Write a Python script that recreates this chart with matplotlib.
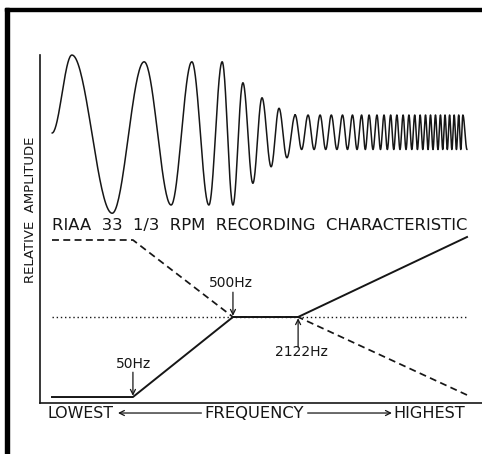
"""
RIAA 33 1/3 rpm recording characteristic: a chirp whose swing shrinks as the
frequency climbs, and the straight-line recording / playback curves below it.
"""
import numpy as np
import matplotlib.pyplot as plt
from matplotlib.patches import Rectangle

plt.rcParams['font.family'] = 'DejaVu Sans'

# turning points of the recorded groove swing (position along frequency axis, relative swing)
swing_x = [0.0, 4.8, 14.5, 22.2, 28.7, 33.7, 37.8, 41.0, 43.6, 46.0, 48.4,
           50.6, 52.8, 54.7, 56.6]
swing_y = [0.0, 1.04, -1.07, 0.95, -0.96, 0.95, -0.96, 0.95, -0.96, 0.67, -0.67,
           0.47, -0.45, 0.33, -0.33]
# crest positions in the dense high-frequency part, where the swing stays constant
dense_peaks = [58.6, 61.7, 64.6, 67.3, 70.0, 72.4, 74.6, 76.4, 78.3, 80.0, 81.6,
               83.1, 84.6, 86.0, 87.4, 88.7, 90.0, 91.2, 92.4, 93.6, 94.7, 95.8,
               96.9, 98.0, 99.0]
dense_high = 0.24
dense_low = -0.22
wave_end = 100.0

# recording curve (solid), playback curve (dashed), flat reference (dotted), in dB-like units
record_x = [0.0, 19.5, 43.6, 59.3, 100.0]
record_y = [-20.0, -20.0, 0.0, 0.0, 20.0]
playback_x = [0.0, 19.5, 43.6, 59.3, 100.0]
playback_y = [19.25, 19.25, 0.0, 0.0, -19.5]
flat_x = [0.0, 100.0]
flat_y = [0.0, 0.0]

# turnover frequencies: label, x of the corner, level of the corner
turnovers = [("50Hz", 19.5, -20.0), ("500Hz", 43.6, 0.0), ("2122Hz", 59.3, 0.0)]

XLIM = (-2.89, 103.61)
INK = '#161616'

# build the full list of turning points (dense troughs sit between the crests)
ext_x = list(swing_x)
ext_y = list(swing_y)
for i, p in enumerate(dense_peaks):
    ext_x.append(p)
    ext_y.append(dense_high)
    if i + 1 < len(dense_peaks):
        ext_x.append((p + dense_peaks[i + 1]) / 2)
    else:
        ext_x.append(wave_end)
    ext_y.append(dense_low)

# join turning points with half-cosine arcs so it reads as a smooth sine
xs, ys = [], []
for i in range(len(ext_x) - 1):
    t = np.linspace(0, 1, 40)
    xs.append(ext_x[i] + (ext_x[i + 1] - ext_x[i]) * t)
    ys.append(ext_y[i] + (ext_y[i + 1] - ext_y[i]) * (1 - np.cos(np.pi * t)) / 2)
wave_xs = np.concatenate(xs)
wave_ys = np.concatenate(ys)

fig = plt.figure(figsize=(4.82, 4.54), dpi=100)
fig.patch.set_facecolor('white')

# heavy page border on the left and top
fig.patches.append(Rectangle((0.0104, 0.0), 0.0083, 0.9824, transform=fig.transFigure,
                             color='black', zorder=5))
fig.patches.append(Rectangle((0.0104, 0.9758), 0.99, 0.0066, transform=fig.transFigure,
                             color='black', zorder=5))

# frame carrying the two axis lines
frame = fig.add_axes([0.0830, 0.1123, 0.917, 0.7665])
frame.set_xlim(0, 1)
frame.set_ylim(0, 1)
frame.set_xticks([])
frame.set_yticks([])
for side in ['top', 'right']:
    frame.spines[side].set_visible(False)
for side in ['left', 'bottom']:
    frame.spines[side].set_linewidth(1.2)
    frame.spines[side].set_color(INK)
frame.patch.set_alpha(0)

# upper part: groove swing
wave_ax = fig.add_axes([0.0830, 0.5242, 0.917, 0.3656])
wave_ax.plot(wave_xs, wave_ys, color=INK, lw=1.1, solid_capstyle='round')
wave_ax.set_xlim(*XLIM)
wave_ax.set_ylim(-1.1067, 1.1067)
wave_ax.axis('off')

# lower part: response curves
resp = fig.add_axes([0.0830, 0.1079, 0.917, 0.3855])
resp.set_xlim(*XLIM)
resp.set_ylim(-22, 21.75)
resp.axis('off')
resp.plot(flat_x, flat_y, color=INK, lw=1.0, linestyle=(0, (1, 2)))
resp.plot(playback_x, playback_y, color=INK, lw=1.25, linestyle=(0, (4, 2.5)))
resp.plot(record_x, record_y, color=INK, lw=1.4)

arrow = dict(arrowstyle='->', color=INK, lw=0.9, shrinkA=0, shrinkB=0,
             mutation_scale=9)
text_style = dict(fontsize=10, color=INK, ha='center', va='center')

label, x, y = turnovers[0]
resp.annotate('', xy=(x, y + 0.3), xytext=(x, y + 6.2), arrowprops=arrow)
resp.text(x + 0.2, y + 8.25, label, **text_style)

label, x, y = turnovers[1]
resp.annotate('', xy=(x, y + 0.3), xytext=(x, y + 6.2), arrowprops=arrow)
resp.text(x - 0.5, y + 8.5, label, **text_style)

label, x, y = turnovers[2]
resp.annotate('', xy=(x, y - 0.3), xytext=(x, y - 7.5), arrowprops=arrow)
resp.text(x + 0.9, y - 8.75, label, **text_style)

resp.text(50.0, 22.75, "RIAA  33  1/3  RPM  RECORDING  CHARACTERISTIC",
          fontsize=11.8, color=INK, ha='center', va='center')

# frequency axis caption with its two arrows
resp.text(-1.0, -24.0, "LOWEST", fontsize=11.4, color=INK, ha='left', va='center')
resp.text(48.7, -24.0, "FREQUENCY", fontsize=11.8, color=INK, ha='center', va='center')
resp.text(99.5, -24.0, "HIGHEST", fontsize=11.6, color=INK, ha='right', va='center')
resp.annotate('', xy=(15.9, -24.0), xytext=(36.0, -24.0), arrowprops=arrow,
              annotation_clip=False)
resp.annotate('', xy=(81.9, -24.0), xytext=(61.6, -24.0), arrowprops=arrow,
              annotation_clip=False)

fig.text(0.0643, 0.5374, "RELATIVE  AMPLITUDE", rotation=90, fontsize=9.5,
         color=INK, ha='center', va='center')

fig.savefig('out.png', dpi=100, facecolor='white')
